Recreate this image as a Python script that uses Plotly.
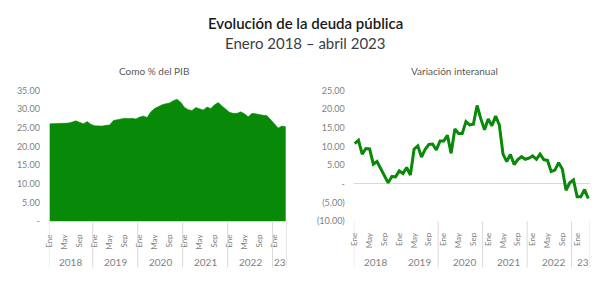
import plotly.graph_objects as go

# ---- data ----
months_idx = list(range(64))  # Jan 2018 .. Apr 2023
pib_pct = [26.1, 26.1, 26.2, 26.3, 26.2, 26.3, 26.6, 26.9, 26.5, 26.1, 26.7, 26.0,
           25.6, 25.5, 25.5, 25.7, 25.8, 27.0, 27.3, 27.4, 27.6, 27.5, 27.6, 27.4,
           27.9, 28.2, 27.8, 29.3, 30.2, 30.8, 31.2, 31.5, 31.7, 32.3, 32.7, 31.9,
           30.5, 29.9, 29.7, 30.5, 30.1, 29.8, 30.6, 30.2, 31.2, 31.8, 30.9, 30.0,
           29.2, 28.9, 28.9, 29.3, 28.8, 28.0, 28.9, 28.8, 28.5, 28.4, 28.3, 27.2,
           25.9, 25.0, 25.5, 25.3]
var_interanual = [10.8, 11.7, 8.0, 9.5, 9.4, 5.3, 6.0, 4.1, 2.2, 0.3, 2.0, 1.9,
                  3.5, 2.8, 4.4, 2.4, 9.3, 10.2, 7.2, 9.3, 10.6, 10.7, 9.1, 11.5,
                  11.5, 13.0, 8.2, 14.7, 13.5, 13.5, 16.7, 15.8, 16.0, 21.0, 17.5, 14.5,
                  17.4, 15.6, 18.2, 15.8, 8.0, 6.0, 7.9, 5.2, 6.5, 7.3, 6.6, 6.9,
                  7.5, 6.6, 8.0, 6.5, 6.3, 3.3, 3.7, 5.7, 4.0, -1.7, 0.3, 1.1,
                  -3.4, -3.4, -1.5, -3.9]
month_tick_idx = [0, 4, 8, 12, 16, 20, 24, 28, 32, 36, 40, 44, 48, 52, 56, 60]
month_tick_text = ["Ene", "May", "Sep"] * 5 + ["Ene"]
year_labels = ["2018", "2019", "2020", "2021", "2022", "23"]
year_start_idx = [0, 12, 24, 36, 48, 60, 64]

left_ticks = [0, 5, 10, 15, 20, 25, 30, 35]
left_ticktext = ["-", "5.00", "10.00", "15.00", "20.00", "25.00", "30.00", "35.00"]
right_ticks = [-10, -5, 0, 5, 10, 15, 20, 25]
right_ticktext = ["(10.00)", "(5.00)", "-", "5.00", "10.00", "15.00", "20.00", "25.00"]

GREEN = "#088a08"
GRAY_TXT = "#7f7f7f"
DIV = "#d9d9d9"
FONT = "Lato"

fig = go.Figure()
fig.add_trace(go.Scatter(x=months_idx, y=pib_pct, mode="lines", fill="tozeroy",
                         line=dict(color=GREEN, width=0.5), fillcolor=GREEN,
                         xaxis="x", yaxis="y", showlegend=False, hoverinfo="skip"))
fig.add_trace(go.Scatter(x=months_idx, y=var_interanual, mode="lines",
                         line=dict(color=GREEN, width=3), xaxis="x2", yaxis="y2",
                         showlegend=False, hoverinfo="skip"))

YDOM = [0.2085, 0.689]
ax_common = dict(showgrid=False, zeroline=False, ticks="", tickangle=-90,
                 tickmode="array", tickvals=month_tick_idx, ticktext=month_tick_text,
                 tickfont=dict(size=8, color=GRAY_TXT, family=FONT),
                 ticklabelstandoff=9, fixedrange=True)
fig.update_layout(
    width=605, height=283, margin=dict(l=0, r=0, t=0, b=0),
    paper_bgcolor="white", plot_bgcolor="white",
    font=dict(family=FONT),
    xaxis=dict(domain=[0.0732, 0.4694], range=[-0.2, 63.25], anchor="y",
               showline=True, linecolor=DIV, linewidth=1, **ax_common),
    xaxis2=dict(domain=[0.5813, 0.9752], range=[-0.27, 63.5], anchor="y2",
                showline=False, **ax_common),
    yaxis=dict(domain=YDOM, range=[0, 35], showgrid=False, zeroline=False,
               tickmode="array", tickvals=left_ticks, ticktext=left_ticktext,
               tickfont=dict(size=9, color=GRAY_TXT, family=FONT), ticks="",
               ticklabelstandoff=8, anchor="x", fixedrange=True),
    yaxis2=dict(domain=YDOM, range=[-10, 25], showgrid=False, zeroline=True,
                zerolinecolor=DIV, zerolinewidth=1,
                tickmode="array", tickvals=right_ticks, ticktext=right_ticktext,
                tickfont=dict(size=9, color=GRAY_TXT, family=FONT), ticks="",
                ticklabelstandoff=8, anchor="x2", fixedrange=True),
)

Y_TOP_DIV = YDOM[0]
Y_BOT_DIV = (283 - 272) / 283
shapes = []
# left chart dividers between years
for s in year_start_idx:
    xpos = s - 0.5 if 0 < s < 64 else (-0.2 if s == 0 else 63.2)
    shapes.append(dict(type="line", xref="x", yref="paper", x0=xpos, x1=xpos,
                       y0=Y_TOP_DIV, y1=Y_BOT_DIV, line=dict(color=DIV, width=1)))
# right chart dividers
for s in year_start_idx:
    if s == 12:
        continue
    xpos = -0.27 if s == 0 else (63.5 if s == 64 else s - 1.5)
    shapes.append(dict(type="line", xref="x2", yref="paper", x0=xpos, x1=xpos,
                       y0=Y_TOP_DIV, y1=Y_BOT_DIV, line=dict(color=DIV, width=1)))
fig.update_layout(shapes=shapes)

annotations = []
for i, lab in enumerate(year_labels):
    cx = (year_start_idx[i] + year_start_idx[i + 1] - 1) / 2
    for xr in ("x", "x2"):
        annotations.append(dict(text=lab, x=cx, xref=xr, y=(283 - 266) / 283, yref="paper",
                                showarrow=False, font=dict(size=10, color=GRAY_TXT, family=FONT),
                                xanchor="center", yanchor="middle"))
annotations.append(dict(text="Evolución de la deuda pública", x=0.5, xref="paper",
                        y=(283 - 18) / 283, yref="paper", showarrow=False,
                        font=dict(size=15, color="#1a1a1a", family=FONT, weight=600),
                        xanchor="center", yanchor="middle"))
annotations.append(dict(text="Enero 2018 – abril 2023", x=0.5, xref="paper",
                        y=(283 - 38) / 283, yref="paper", showarrow=False,
                        font=dict(size=15, color="#3c3c4a", family=FONT),
                        xanchor="center", yanchor="middle"))
annotations.append(dict(text="Como % del PIB", x=150 / 605, xref="paper",
                        y=(283 - 68) / 283, yref="paper", showarrow=False,
                        font=dict(size=10, color="#595959", family=FONT),
                        xanchor="center", yanchor="middle"))
annotations.append(dict(text="Variación interanual", x=453 / 605, xref="paper",
                        y=(283 - 68) / 283, yref="paper", showarrow=False,
                        font=dict(size=10, color="#595959", family=FONT),
                        xanchor="center", yanchor="middle"))
fig.update_layout(annotations=annotations)

fig.write_html("out.html")
